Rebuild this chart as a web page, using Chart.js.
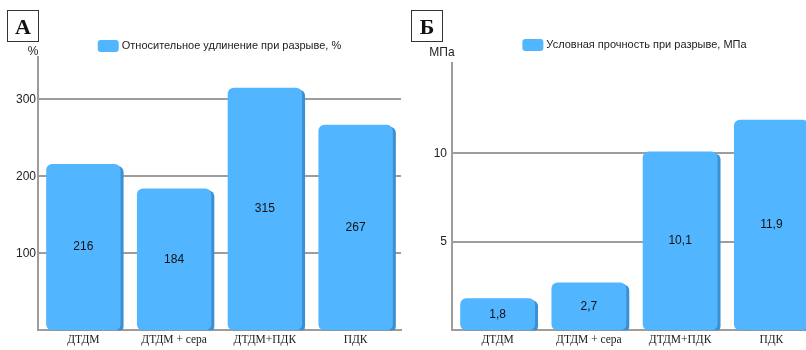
<!DOCTYPE html>
<html>
<head>
<meta charset="utf-8">
<script src="https://cdn.jsdelivr.net/npm/chart.js@4.4.1/dist/chart.umd.min.js"></script>
<style>
  body { margin: 0; background: #fff; width: 806px; height: 350px; overflow: hidden; position: relative; }
  .panel { position: absolute; top: 0; height: 350px; }
</style>
</head>
<body>
<div class="panel" style="left:0;width:403px"><canvas id="elongChart" width="403" height="350"></canvas></div>
<div class="panel" style="left:403px;width:416px"><canvas id="strengthChart" width="416" height="350"></canvas></div>
<script>
const categories = ['ДТДМ', 'ДТДМ + сера', 'ДТДМ+ПДК', 'ПДК'];
const elongation = [216, 184, 315, 267];
const strength = [1.8, 2.7, 10.1, 11.9];
const elongTicks = [100, 200, 300];
const strengthTicks = [5, 10];

const BAR = '#52b5ff';
const BAR_SIDE = '#3b8fd2';
const GRID = '#9d9d9d';
const SANS = '"Liberation Sans", Arial, sans-serif';
const SERIF = '"Liberation Serif", "Times New Roman", serif';

// darker strip on the right side of each bar
const barShadow = {
    id: 'barShadow',
    beforeDatasetsDraw(chart) {
        const ctx = chart.ctx;
        ctx.save();
        ctx.shadowColor = BAR_SIDE;
        ctx.shadowOffsetX = 3;
        ctx.shadowOffsetY = 2;
        ctx.shadowBlur = 0;
    },
    afterDatasetsDraw(chart) {
        chart.ctx.restore();
    }
};

// panel letter, unit caption, legend and the values inside the bars
const panelText = {
    id: 'panelText',
    afterDraw(chart, args, opts) {
        const ctx = chart.ctx;
        const area = chart.chartArea;
        const ds = chart.data.datasets[0];
        ctx.save();

        // letter box
        ctx.strokeStyle = '#333';
        ctx.lineWidth = 1;
        ctx.strokeRect(opts.boxX + 0.5, 10.5, 31, 31);
        ctx.fillStyle = '#111';
        ctx.font = 'bold 22px ' + SERIF;
        ctx.textAlign = 'center';
        ctx.textBaseline = 'middle';
        ctx.fillText(opts.letter, opts.boxX + 16, 28);

        // unit above the value axis
        ctx.font = '12px ' + SANS;
        ctx.fillStyle = '#222';
        ctx.fillText(opts.unit, opts.unitX, opts.unitY);

        // legend entry
        ctx.font = '11px ' + SANS;
        const tw = ctx.measureText(ds.label).width;
        const total = 21 + 3 + tw;
        const lx = (area.left + area.right) / 2 - total / 2;
        ctx.fillStyle = ds.backgroundColor;
        ctx.beginPath();
        ctx.roundRect(lx, opts.legendY - 6, 21, 12, 3);
        ctx.fill();
        ctx.fillStyle = '#222';
        ctx.textAlign = 'left';
        ctx.fillText(ds.label, lx + 24, opts.legendY);

        // values
        ctx.font = '12px ' + SANS;
        ctx.textAlign = 'center';
        ctx.fillStyle = '#111';
        chart.getDatasetMeta(0).data.forEach((bar, i) => {
            const text = String(ds.data[i]).replace('.', ',');
            ctx.fillText(text, bar.x, (bar.y + bar.base) / 2);
        });
        ctx.restore();
    }
};

function makeChart(id, label, values, tickValues, max, axisWidth, tickPad, top, text) {
    return new Chart(document.getElementById(id), {
        type: 'bar',
        data: {
            labels: categories,
            datasets: [{
                label: label,
                data: values,
                backgroundColor: BAR,
                borderWidth: 0,
                borderRadius: 6,
                borderSkipped: false,
                categoryPercentage: 1,
                barPercentage: 0.82
            }]
        },
        options: {
            responsive: false,
            animation: false,
            events: [],
            layout: { padding: { top: top, right: 2, bottom: 0, left: 0 } },
            plugins: {
                legend: { display: false },
                tooltip: { enabled: false },
                panelText: text
            },
            scales: {
                x: {
                    grid: { display: false, drawTicks: false },
                    border: { color: GRID, width: 2 },
                    ticks: { color: '#222', font: { family: SERIF, size: 11.5 }, padding: 3 }
                },
                y: {
                    min: 0,
                    max: max,
                    afterBuildTicks(scale) {
                        scale.ticks = tickValues.map(v => ({ value: v }));
                    },
                    afterFit(scale) {
                        scale.width = axisWidth;
                    },
                    grid: { color: GRID, lineWidth: 2, drawTicks: false },
                    border: { color: GRID, width: 2 },
                    ticks: { color: '#222', font: { family: SANS, size: 12 }, padding: tickPad }
                }
            }
        },
        plugins: [barShadow, panelText]
    });
}

makeChart('elongChart', 'Относительное удлинение при разрыве, %', elongation, elongTicks,
    355, 38, 2, 57,
    { letter: 'А', boxX: 7, unit: '%', unitX: 33, unitY: 52, legendY: 46 });

makeChart('strengthChart', 'Условная прочность при разрыве, МПа', strength, strengthTicks,
    15.1, 49, 5, 63,
    { letter: 'Б', boxX: 8, unit: 'МПа', unitX: 39, unitY: 53, legendY: 45 });
</script>
</body>
</html>
